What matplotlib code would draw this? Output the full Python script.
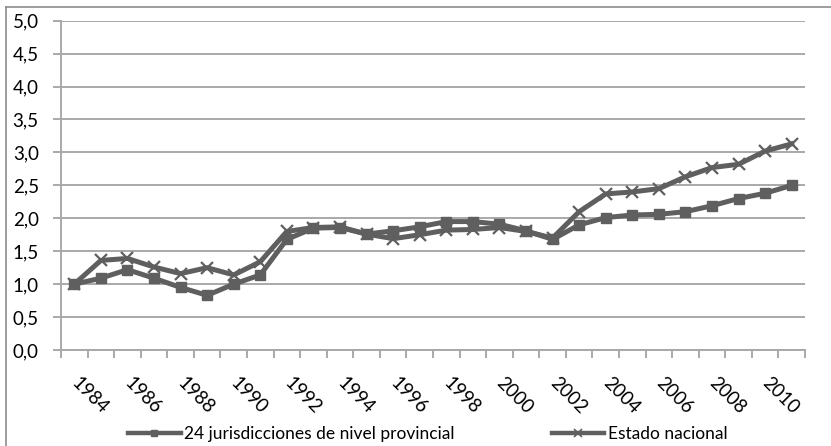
import numpy as np
import matplotlib.pyplot as plt
import matplotlib.transforms as mtransforms
from matplotlib.lines import Line2D

# datos
years = list(range(1984, 2012))
provincial = [1.00, 1.09, 1.22, 1.09, 0.95, 0.83, 1.00, 1.14, 1.68, 1.85,
              1.86, 1.76, 1.81, 1.87, 1.95, 1.95, 1.91, 1.81, 1.68, 1.90,
              2.01, 2.05, 2.06, 2.10, 2.19, 2.30, 2.38, 2.50]
nacional = [1.00, 1.36, 1.39, 1.26, 1.16, 1.25, 1.14, 1.34, 1.80, 1.86,
            1.87, 1.76, 1.69, 1.75, 1.82, 1.83, 1.86, 1.80, 1.70, 2.10,
            2.37, 2.40, 2.45, 2.63, 2.77, 2.82, 3.02, 3.13]
y_ticks = [0.0, 0.5, 1.0, 1.5, 2.0, 2.5, 3.0, 3.5, 4.0, 4.5, 5.0]
labels = ["24 jurisdicciones de nivel provincial", "Estado nacional"]

W, H = 831, 446
plt.rcParams['font.family'] = ['Lato', 'DejaVu Sans']

fig = plt.figure(figsize=(W / 100, H / 100), dpi=100)
ax = fig.add_axes([61 / W, 1 - 350 / H, (805 - 61) / W, (350 - 20.7) / H])

line_col = "#5f5f5f"
grid_col = "#a9a9a9"

x = np.arange(len(years))
ax.plot(x, provincial, color=line_col, lw=3.6, marker="s", ms=7.5, zorder=4)
ax.plot(x, nacional, color=line_col, lw=3.6, marker="x", ms=8, mew=1.6,
        zorder=3)

ax.set_xlim(-0.5, len(years) - 0.5)
ax.set_ylim(0, 5)
ax.set_yticks(y_ticks)
ax.set_yticklabels([f"{v:.1f}".replace(".", ",") for v in y_ticks])
ax.yaxis.grid(True, color=grid_col, lw=1.4)
ax.set_axisbelow(True)

ax.set_xticks(x[::2])
ax.set_xticklabels([str(y) for y in years[::2]], rotation=-45,
                   ha="left", va="top", rotation_mode="anchor")
ax.set_xticks(np.arange(-0.5, len(years)), minor=True)
ax.tick_params(axis="x", which="major", length=0, pad=17, labelsize=13.5)
ax.tick_params(axis="x", which="minor", length=6, color=grid_col, width=1.4)
ax.tick_params(axis="y", length=6, color=grid_col, width=1.4, pad=10,
               labelsize=13.5)

# desplazar las etiquetas del eje x un poco a la derecha
shift = mtransforms.ScaledTranslation(0.06, 0, fig.dpi_scale_trans)
for t in ax.get_xticklabels():
    t.set_transform(t.get_transform() + shift)

for s in ["top", "right"]:
    ax.spines[s].set_visible(False)
for s in ["left", "bottom"]:
    ax.spines[s].set_color(grid_col)
    ax.spines[s].set_linewidth(1.4)

# marco exterior del gráfico (sólo se ven arriba e izquierda)
fig.add_artist(Line2D([6 / W, 6 / W], [0, 1 - 6.7 / H], color="#8c8c8c",
                      lw=1.2, transform=fig.transFigure))
fig.add_artist(Line2D([6 / W, 1], [1 - 6.7 / H, 1 - 6.7 / H], color="#8c8c8c",
                      lw=1.2, transform=fig.transFigure))

handles = [Line2D([], [], color=line_col, lw=3.2, marker="s", ms=5),
           Line2D([], [], color=line_col, lw=3.2, marker="x", ms=6, mew=1.2)]
fig.legend(handles, labels, loc="center", bbox_to_anchor=(428 / W, 1 - 434 / H),
           ncol=2, frameon=False, fontsize=12.5, handlelength=3.0,
           handletextpad=0.22, columnspacing=5.6)

fig.savefig("out.png", dpi=100)
